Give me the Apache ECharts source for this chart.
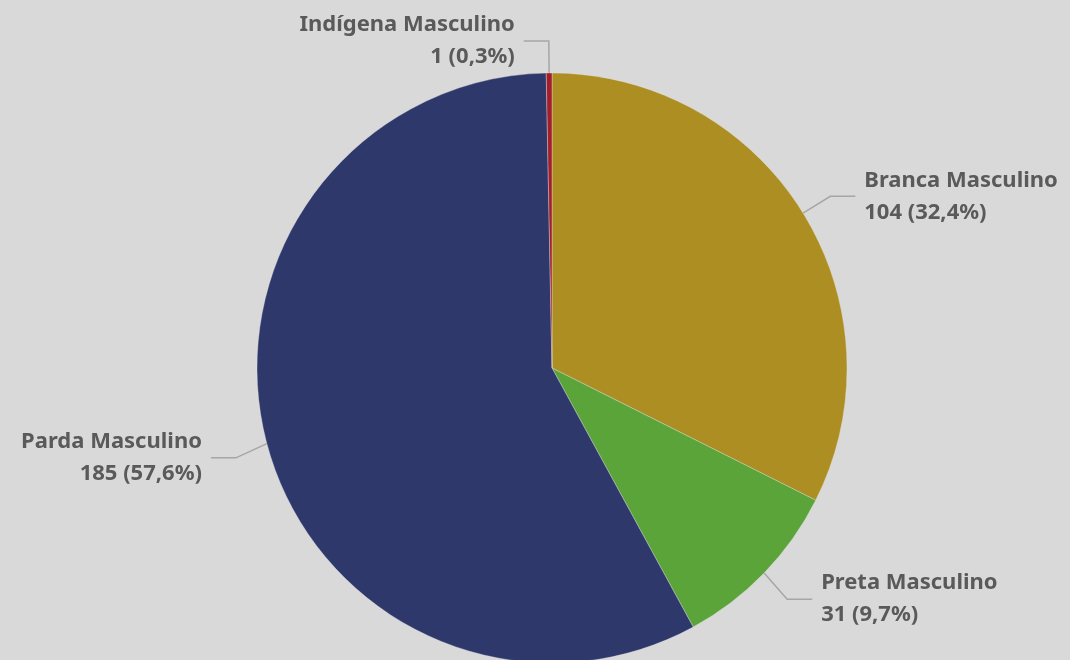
<!DOCTYPE html>
<html>
<head>
<meta charset="utf-8">
<script src="https://cdn.jsdelivr.net/npm/echarts@6/dist/echarts.min.js"></script>
<style>
html,body{margin:0;padding:0;background:#d9d9d9;}
#c{width:1070px;height:660px;}
</style>
</head>
<body>
<div id="c"></div>
<script>
const categories = ['Branca Masculino', 'Preta Masculino', 'Parda Masculino', 'Indígena Masculino'];
const values = [104, 31, 185, 1];
const colors = ['#AD8E22', '#5AA43A', '#2E386B', '#A21E2A'];
const labelShift = [0, 4, 6, 0];

const chart = echarts.init(document.getElementById('c'));
chart.setOption({
  backgroundColor: '#d9d9d9',
  animation: false,
  series: [{
    type: 'pie',
    center: [552, 368],
    radius: 295,
    startAngle: 90,
    clockwise: true,
    percentPrecision: 1,
    avoidLabelOverlap: false,
    data: categories.map((c, i) => ({ name: c, value: values[i], itemStyle: { color: colors[i] } })),
    itemStyle: { borderColor: 'rgba(230,230,230,0.6)', borderWidth: 0.6 },
    label: {
      show: true,
      position: 'outside',
      color: '#5a5a5a',
      fontFamily: 'Noto Sans',
      fontWeight: 'bold',
      fontSize: 22,
      lineHeight: 32,
      distanceToLabelLine: 9,
      formatter: p => p.name + '\n' + p.value + ' (' + p.percent.toFixed(1).replace('.', ',') + '%)'
    },
    labelLine: {
      show: true,
      length: 32,
      length2: 25,
      lineStyle: { color: '#a6a6a6', width: 1.5 }
    },
    labelLayout: p => {
      const dy = labelShift[p.dataIndex];
      if (!dy || !p.labelLinePoints) return {};
      const pts = p.labelLinePoints;
      return {
        dy: dy,
        labelLinePoints: [pts[0], [pts[1][0], pts[1][1] + dy], [pts[2][0], pts[2][1] + dy]]
      };
    }
  }]
});
</script>
</body>
</html>
